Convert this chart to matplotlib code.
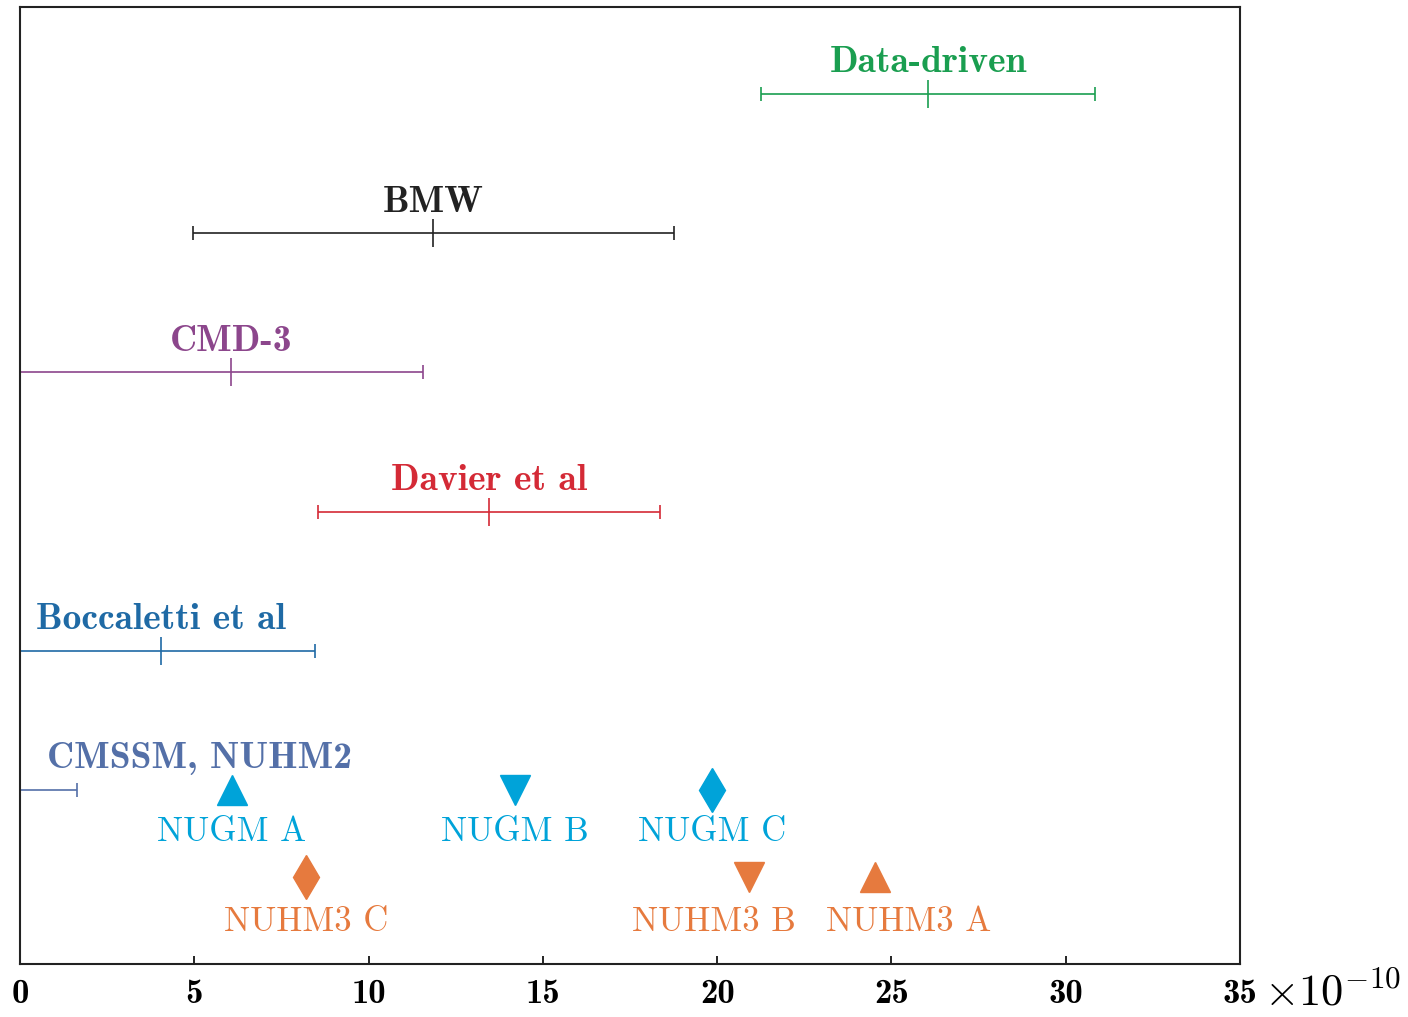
import matplotlib
matplotlib.use("Agg")
import matplotlib.pyplot as plt

plt.rcParams['mathtext.fontset'] = 'cm'
plt.rcParams['axes.unicode_minus'] = False

# Error-bar results (x 1e-10)
bar_labels = ["Data-driven", "BMW", "CMD-3", "Davier et al", "Boccaletti et al", "CMSSM, NUHM2"]
bar_centers = [26.05, 11.85, 6.05, 13.45, 4.05, -0.5]
bar_err_low = [4.8, 6.9, 6.5, 4.9, 4.4, 2.14]
bar_err_high = [4.8, 6.9, 5.5, 4.9, 4.4, 2.14]
bar_rows = [6, 5, 4, 3, 2, 1]
bar_label_x = [26.05, 11.85, 6.05, 13.45, 4.05, 5.15]
bar_colors = ["#1a9e50", "#222222", "#8c468c", "#d42a36", "#1f6aa5", "#5470a8"]

# Benchmark points
nugm_labels = ["NUGM A", "NUGM B", "NUGM C"]
nugm_values = [6.08, 14.2, 19.85]
nugm_label_x = [6.08, 14.2, 19.85]
nugm_markers = ["^", "v", "d"]
nuhm3_labels = ["NUHM3 C", "NUHM3 B", "NUHM3 A"]
nuhm3_values = [8.2, 20.9, 24.53]
nuhm3_label_x = [8.2, 19.9, 25.5]
nuhm3_markers = ["d", "v", "^"]
nugm_row = 1.0
nuhm3_row = 0.375
nugm_color = "#00a3d9"
nuhm3_color = "#e67a3e"

xticks = [0, 5, 10, 15, 20, 25, 30, 35]

fig = plt.figure(figsize=(14.08, 10.17), dpi=100)
ax = fig.add_axes([20/1408, 1-964/1017, 1220/1408, (964-7)/1017])

bold = dict(family='cmb10')
reg = dict(family='cmr10')

for lab, c, el, eh, r, lx, col in zip(bar_labels, bar_centers, bar_err_low, bar_err_high,
                                      bar_rows, bar_label_x, bar_colors):
    ax.errorbar([c], [r], xerr=[[el], [eh]], fmt='|', color=col, ecolor=col, elinewidth=1.2,
                capsize=4.7, capthick=1.2, markersize=20, markeredgewidth=1.2)
    ax.annotate(lab, (lx, r), xytext=(0, 15.5), textcoords='offset points',
                ha='center', va='baseline', color=col, fontsize=27, **bold)

for lab, v, lx, m in zip(nugm_labels, nugm_values, nugm_label_x, nugm_markers):
    ax.plot([v], [nugm_row], marker=m, markersize=21 if m != 'd' else 22, color=nugm_color, linestyle='none')
    ax.annotate(lab, (lx, nugm_row), xytext=(0, -36.5), textcoords='offset points',
                ha='center', va='baseline', color=nugm_color, fontsize=25, **reg)

for lab, v, lx, m in zip(nuhm3_labels, nuhm3_values, nuhm3_label_x, nuhm3_markers):
    ax.plot([v], [nuhm3_row], marker=m, markersize=21 if m != 'd' else 22, color=nuhm3_color, linestyle='none')
    ax.annotate(lab, (lx, nuhm3_row), xytext=(0, -39), textcoords='offset points',
                ha='center', va='baseline', color=nuhm3_color, fontsize=25, **reg)

ax.set_xlim(0, 35)
ax.set_ylim(-0.25, 6.625)
ax.set_yticks([])
ax.set_xticks(xticks)
ax.set_xticklabels([str(t) for t in xticks], fontsize=25, **bold)
ax.tick_params(axis='x', direction='in', length=6, width=1.2, pad=11, top=False)
for s in ax.spines.values():
    s.set_linewidth(1.5)
    s.set_color('#222222')

fig.text(1264/1408, 1-993/1017, r'$\times10^{-10}$', ha='left', va='center', fontsize=32)

fig.savefig("out.png", dpi=100)
